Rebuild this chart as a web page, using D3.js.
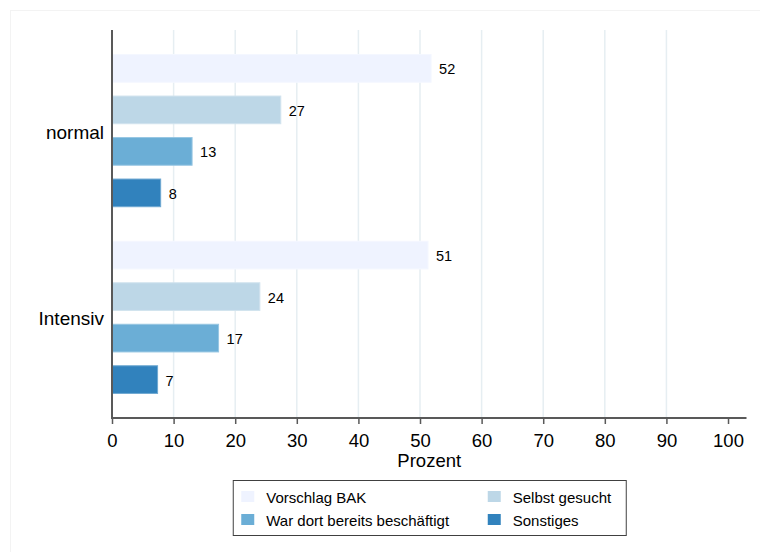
<!DOCTYPE html>
<html>
<head>
<meta charset="utf-8">
<script src="https://cdn.jsdelivr.net/npm/d3@7"></script>
<style>
  html, body { margin: 0; padding: 0; background: #fff; }
  svg { display: block; font-family: "Liberation Sans", Arial, sans-serif; }
</style>
</head>
<body>
<svg id="chart" width="760" height="552"></svg>
<script>
// ---- data ----
const categories = ["normal", "Intensiv"];
const seriesNames = ["Vorschlag BAK", "Selbst gesucht", "War dort bereits beschäftigt", "Sonstiges"];
const valuesNormal = [51.8, 27.4, 13.0, 7.9];
const valuesIntensiv = [51.3, 24.0, 17.3, 7.4];
const xTicks = [0, 10, 20, 30, 40, 50, 60, 70, 80, 90, 100];
const gridTicks = [10, 20, 30, 40, 50, 60, 70, 80, 90];
const seriesColors = ["#eff3ff", "#bdd7e7", "#6baed6", "#3182bd"];
const xTitle = "Prozent";

const data = categories.map((c, i) => ({
  category: c,
  values: (i === 0 ? valuesNormal : valuesIntensiv).map((v, j) => ({ series: seriesNames[j], value: v }))
}));

// ---- layout ----
const svg = d3.select("#chart");
const plot = { left: 112, right: 746.5, top: 30, bottom: 418 };

// outer faint frame
svg.append("rect")
  .attr("x", 10.5).attr("y", 10.5).attr("width", 800).attr("height", 600)
  .attr("fill", "none").attr("stroke", "#f3f3f3").attr("stroke-width", 1);

const x = d3.scaleLinear().domain([0, 103]).range([plot.left, plot.right]);
const y0 = d3.scaleBand().domain(categories).range([plot.top, plot.bottom])
  .paddingInner(0.111).paddingOuter(0.0945);
const y1 = d3.scaleBand().domain(seriesNames).range([0, y0.bandwidth()])
  .paddingInner(0.333).paddingOuter(0.1667);
const color = d3.scaleOrdinal().domain(seriesNames).range(seriesColors);

// gridlines
svg.append("g").selectAll("line").data(gridTicks).join("line")
  .attr("x1", d => x(d)).attr("x2", d => x(d))
  .attr("y1", plot.top).attr("y2", plot.bottom)
  .attr("stroke", "#e6eef2").attr("stroke-width", 1.5);

// bars
const groups = svg.append("g").selectAll("g").data(data).join("g")
  .attr("transform", d => `translate(0,${y0(d.category)})`);

groups.selectAll("rect").data(d => d.values).join("rect")
  .attr("x", x(0))
  .attr("y", d => y1(d.series))
  .attr("width", d => x(d.value) - x(0))
  .attr("height", y1.bandwidth())
  .attr("fill", d => color(d.series))
  .attr("stroke", d => d3.interpolateRgb(color(d.series), "#ffffff")(0.3))
  .attr("stroke-width", 1);

groups.selectAll("text").data(d => d.values).join("text")
  .attr("x", d => x(d.value) + 8)
  .attr("y", d => y1(d.series) + y1.bandwidth() / 2)
  .attr("dy", "0.42em")
  .attr("font-size", "14.5px")
  .attr("fill", "#000")
  .text(d => d3.format(".0f")(d.value));

// y axis (category labels + line)
svg.append("g").selectAll("text").data(categories).join("text")
  .attr("x", 104)
  .attr("y", d => y0(d) + y0.bandwidth() / 2)
  .attr("dy", "0.42em")
  .attr("text-anchor", "end")
  .attr("font-size", "19px")
  .attr("fill", "#000")
  .text(d => d);

svg.append("line")
  .attr("x1", plot.left).attr("x2", plot.left)
  .attr("y1", plot.top).attr("y2", plot.bottom + 1)
  .attr("stroke", "#595959").attr("stroke-width", 2);

// x axis
const xAxis = svg.append("g")
  .attr("transform", `translate(0,${plot.bottom})`)
  .call(d3.axisBottom(x).tickValues(xTicks).tickSize(6).tickSizeOuter(0).tickPadding(10).tickFormat(d3.format("d")));
xAxis.select(".domain").attr("stroke", "#595959").attr("stroke-width", 2)
  .attr("d", `M${plot.left - 1},0H${plot.right}`);
xAxis.selectAll(".tick line").attr("stroke", "#595959").attr("stroke-width", 1.5);
xAxis.selectAll(".tick text").attr("font-size", "18.5px").attr("fill", "#000")
  .attr("font-family", "'Liberation Sans', Arial, sans-serif");

const plotCenter = (plot.left + plot.right) / 2;
svg.append("text")
  .attr("x", plotCenter).attr("y", 467)
  .attr("text-anchor", "middle")
  .attr("font-size", "18.5px").attr("fill", "#000")
  .text(xTitle);

// legend
const legW = 393, legH = 55;
const legX = plotCenter - legW / 2, legY = 480;
const leg = svg.append("g").attr("transform", `translate(${legX},${legY})`);
leg.append("rect").attr("x", 0.5).attr("y", 0.5).attr("width", legW).attr("height", legH)
  .attr("fill", "#fff").attr("stroke", "#404040").attr("stroke-width", 1);

const colX = [8.5, 255], rowY = [11, 34];
const items = leg.selectAll("g.item").data(seriesNames).join("g")
  .attr("class", "item")
  .attr("transform", (d, i) => `translate(${colX[i % 2]},${rowY[Math.floor(i / 2)]})`);
items.append("rect").attr("x", 0).attr("y", 0).attr("width", 13).attr("height", 11)
  .attr("fill", d => color(d));
items.append("text").attr("x", 25).attr("y", 11.5)
  .attr("font-size", "15px").attr("fill", "#000")
  .text(d => d);
</script>
</body>
</html>
